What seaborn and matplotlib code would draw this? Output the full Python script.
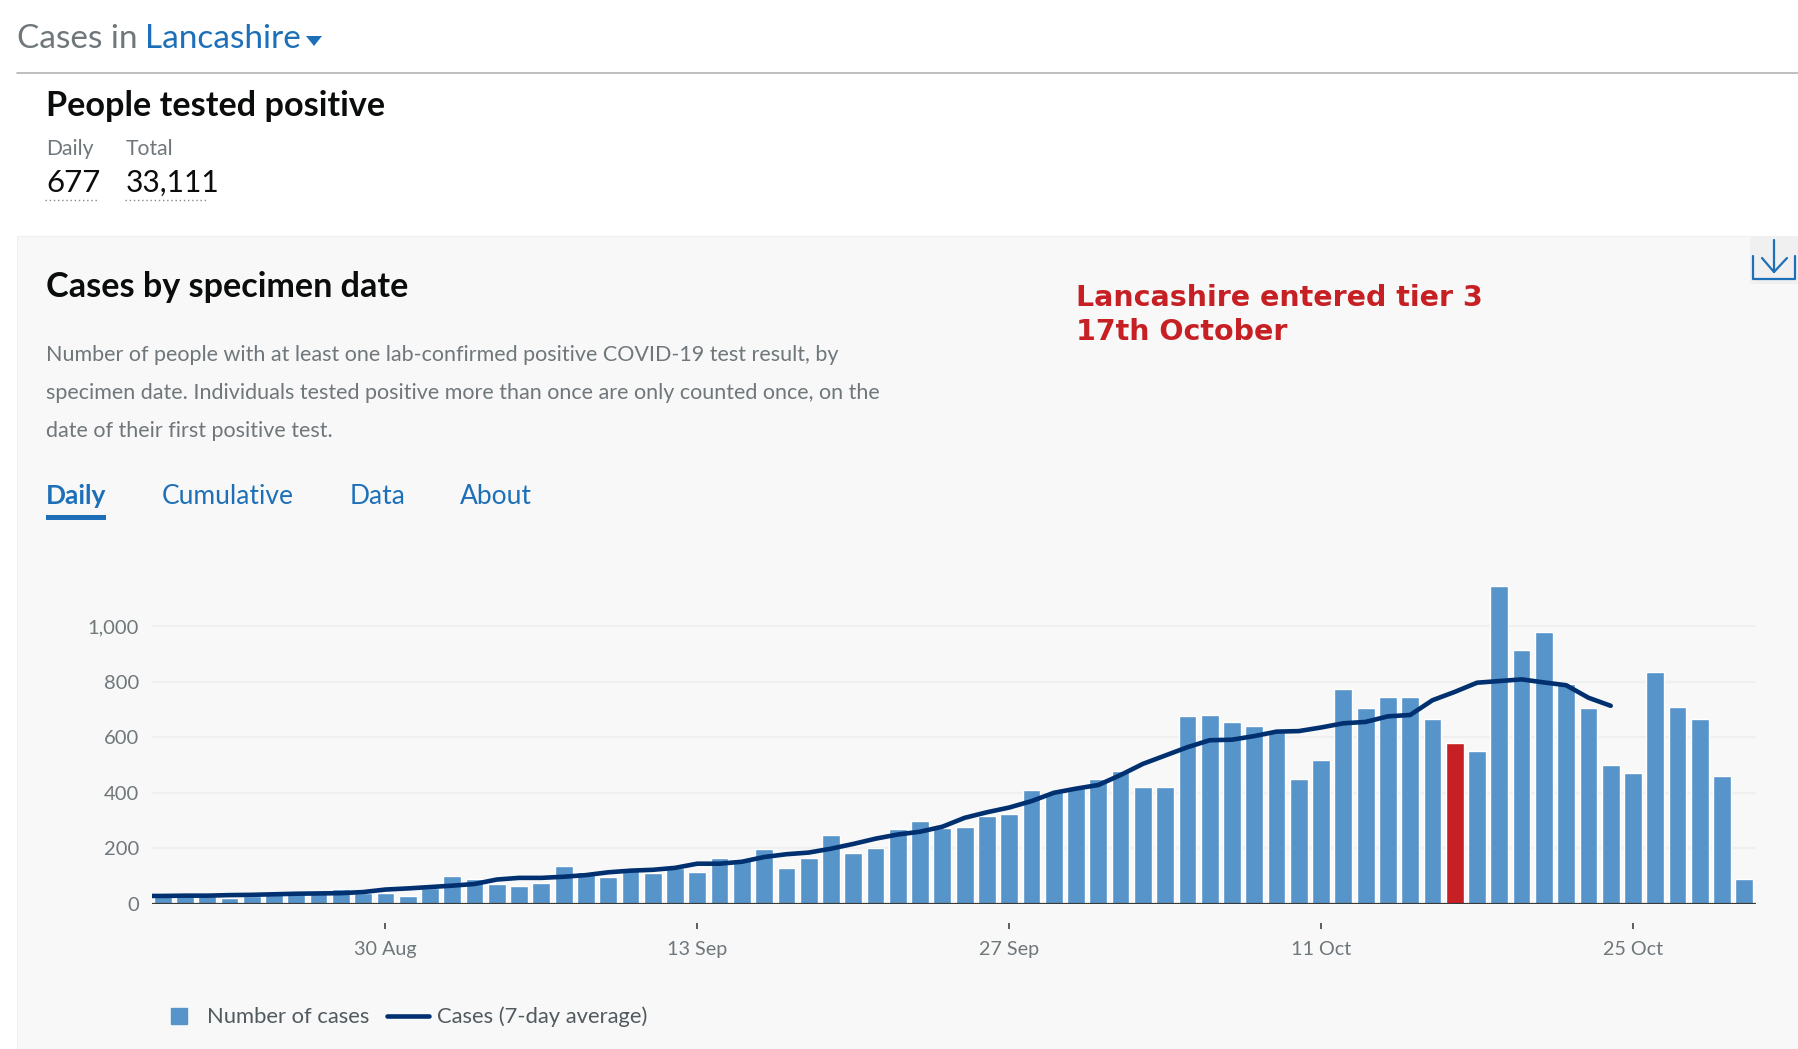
import matplotlib
matplotlib.use("Agg")
import matplotlib.pyplot as plt
import matplotlib.dates as mdates
from matplotlib.lines import Line2D
from matplotlib.patches import Polygon, Rectangle
from matplotlib.ticker import FuncFormatter
import numpy as np
import pandas as pd
import seaborn as sns

# daily cases from 20 Aug to 30 Oct
daily_cases = [27, 28, 28, 23, 30, 35, 44, 40, 54, 38, 41, 29,
               56, 100, 90, 73, 63, 75, 137, 114, 96, 128, 113, 128,
               114, 165, 163, 198, 131, 165, 248, 182, 201, 271, 300, 272,
               277, 317, 323, 409, 402, 417, 448, 477, 422, 422, 676, 681,
               656, 640, 620, 448, 519, 773, 704, 745, 745, 664, 578, 550,
               1144, 915, 978, 790, 704, 499, 470, 835, 709, 664, 460, 89]

# 7-day average from 19 Aug to 25 Oct (the first point gets clipped by the axis)
avg_cases = [29, 29, 30, 30, 32, 33, 35, 37, 38, 39, 43, 52,
             56, 61, 66, 72, 88, 94, 94, 98, 104, 114, 120, 123,
             130, 145, 145, 152, 169, 179, 185, 199, 216, 235, 250, 260,
             278, 310, 330, 347, 370, 400, 415, 428, 464, 504, 534, 564,
             589, 591, 604, 620, 622, 635, 650, 655, 675, 680, 733, 763,
             796, 802, 808, 797, 787, 742, 713]

tick_dates = ["2020-08-30", "2020-09-13", "2020-09-27", "2020-10-11", "2020-10-25"]
tick_labels = ["30 Aug", "13 Sep", "27 Sep", "11 Oct", "25 Oct"]
y_ticks = [0, 200, 400, 600, 800, 1000]
tier3_date = "2020-10-17"

W, H = 1799, 1049
BLUE = "#5694ca"
RED = "#c62024"
NAVY = "#00306f"
LINK = "#1d70b8"
GREY = "#6f777b"

sns.set_theme(style="white")
plt.rcParams["font.family"] = ["Lato", "DejaVu Sans"]

fig = plt.figure(figsize=(W / 100, H / 100), dpi=100, facecolor="white")

# page axes in pixel coordinates, holds the dashboard bits around the chart
page = fig.add_axes([0, 0, 1, 1], zorder=0)
page.set_xlim(0, W)
page.set_ylim(H, 0)
page.axis("off")

page.add_patch(Rectangle((17, 236), W - 17, H - 236, fc="#f8f8f8", ec="#f0f0f0", lw=0.8))
page.plot([17, W], [73, 73], color="#b1b4b6", lw=1.2)

page.text(17, 39, "Cases in", fontsize=24, color=GREY, va="center")
page.text(145, 39, "Lancashire", fontsize=24, color=LINK, va="center")
page.add_patch(Polygon([(306, 36), (322, 36), (314, 46)], fc=LINK, ec="none"))

page.text(46, 106, "People tested positive", fontsize=24.7, fontweight="bold", color="#0b0c0c", va="center")
page.text(46, 149, "Daily", fontsize=15.2, color=GREY, va="center")
page.text(126, 149, "Total", fontsize=15.2, color=GREY, va="center")
page.text(46, 183, "677", fontsize=22.5, color="#0b0c0c", va="center")
page.text(126, 183, "33,111", fontsize=21.5, color="#0b0c0c", va="center")
page.plot([45, 97], [200, 200], color="#888888", lw=1, ls=(0, (1, 2)))
page.plot([125, 207], [200, 200], color="#888888", lw=1, ls=(0, (1, 2)))

page.text(46, 287, "Cases by specimen date", fontsize=24.6, fontweight="bold", color="#0b0c0c", va="center")
page.text(46, 355, "Number of people with at least one lab-confirmed positive COVID-19 test result, by",
          fontsize=15.5, color=GREY, va="center")
page.text(46, 393, "specimen date. Individuals tested positive more than once are only counted once, on the",
          fontsize=15.5, color=GREY, va="center")
page.text(46, 431, "date of their first positive test.", fontsize=15.5, color=GREY, va="center")

page.text(46, 496, "Daily", fontsize=19, fontweight="bold", color=LINK, va="center")
page.text(162, 496, "Cumulative", fontsize=19, color=LINK, va="center")
page.text(350, 496, "Data", fontsize=19, color=LINK, va="center")
page.text(460, 496, "About", fontsize=19, color=LINK, va="center")
page.add_patch(Rectangle((46, 515), 60, 5, fc=LINK, ec="none"))

page.text(1076, 298, "Lancashire entered tier 3", fontsize=20.5, fontweight="bold", color=RED,
          family="DejaVu Sans", va="center")
page.text(1076, 332, "17th October", fontsize=20.5, fontweight="bold", color=RED,
          family="DejaVu Sans", va="center")

# download button
page.add_patch(Rectangle((1750, 236), 48, 48, fc="#f0f0f0", ec="none"))
page.plot([1774, 1774], [240, 272], color=LINK, lw=1.6)
page.plot([1762, 1774, 1787], [258, 272, 258], color=LINK, lw=1.6)
page.plot([1753, 1753, 1795, 1795], [256, 279, 279, 256], color=LINK, lw=1.6)

# chart axes
left, right, base, top = 151.5, 1755.5, 904, 570.4
ax = fig.add_axes([left / W, 1 - base / H, (right - left) / W, (base - top) / H], zorder=1)
ax.patch.set_visible(False)

dates = pd.date_range("2020-08-20", periods=len(daily_cases))
avg_dates = pd.date_range("2020-08-19", periods=len(avg_cases))
df = pd.DataFrame({"day": mdates.date2num(dates), "cases": daily_cases})
df["period"] = np.where(dates == pd.Timestamp(tier3_date), "tier3", "normal")

for v in y_ticks[1:]:
    ax.axhline(v, color="#f0f0f0", lw=1.6, zorder=0)

sns.barplot(data=df, x="day", y="cases", hue="period", native_scale=True, dodge=False,
            palette={"normal": BLUE, "tier3": RED}, saturation=1, width=0.8, legend=False, ax=ax, zorder=2)
sns.lineplot(x=mdates.date2num(avg_dates), y=avg_cases, color=NAVY, lw=3.3, ax=ax, zorder=3)
ax.axhline(0, color="#3a3a3a", lw=1.6, zorder=4)

ax.set_xlim(df["day"].iloc[0] - 0.5, df["day"].iloc[-1] + 0.5)
ax.set_ylim(0, 1200)
ax.set_xlabel("")
ax.set_ylabel("")
ax.set_xticks(mdates.date2num(pd.to_datetime(tick_dates)))
ax.set_xticklabels(tick_labels)
ax.set_yticks(y_ticks)
ax.yaxis.set_major_formatter(FuncFormatter(lambda v, p: f"{int(v):,}"))

for s in ["top", "right", "left"]:
    ax.spines[s].set_visible(False)
ax.spines["bottom"].set_position(("outward", 13.7))
ax.spines["bottom"].set_visible(False)
ax.tick_params(axis="x", length=4.3, width=1.2, color="#444444", pad=8.5, labelsize=14.2, labelcolor=GREY, bottom=True)
ax.tick_params(axis="y", length=0, pad=9, labelsize=14.5, labelcolor=GREY)

handles = [Line2D([], [], color=BLUE, marker="s", ms=12.2, ls="none"),
           Line2D([], [], color=NAVY, lw=3.3)]
ax.legend(handles, ["Number of cases", "Cases (7-day average)"], ncol=2, frameon=False,
          loc="center left", bbox_to_anchor=(158 / W, 1 - 1017 / H), bbox_transform=fig.transFigure,
          fontsize=15.8, labelcolor="#505a5f", handlelength=1.9, handletextpad=0.35,
          columnspacing=0.8, borderpad=0, borderaxespad=0)

fig.savefig("out.png", dpi=100)
